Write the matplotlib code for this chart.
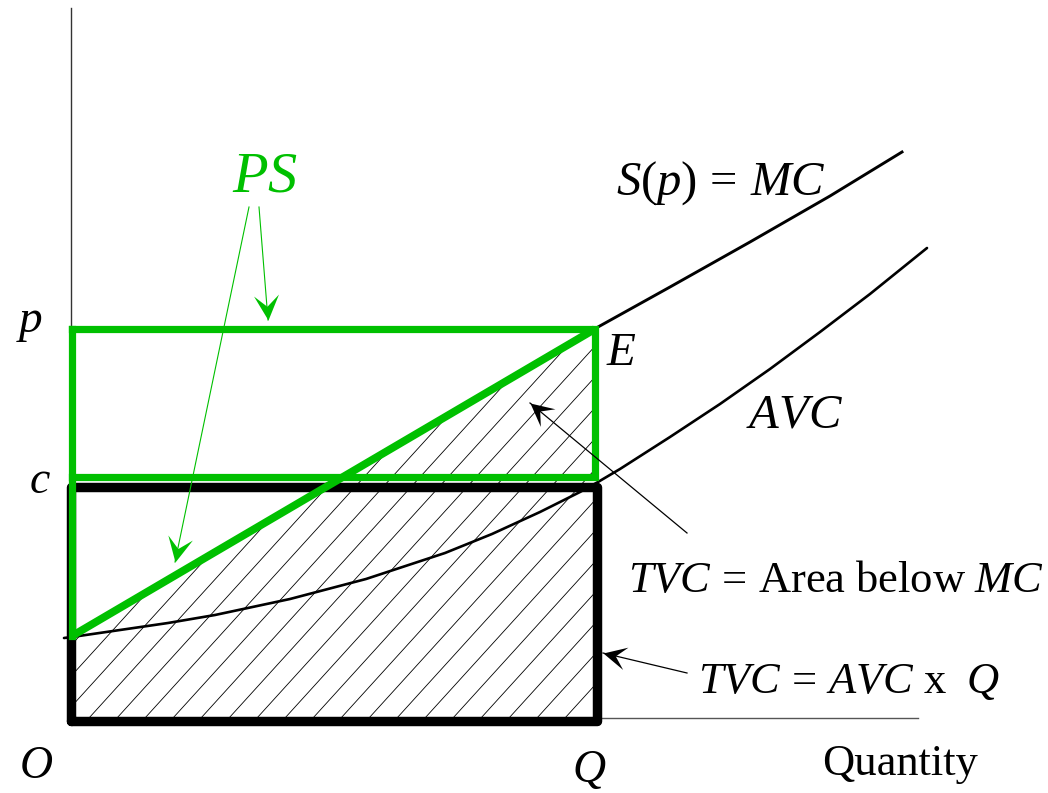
import numpy as np
import matplotlib
matplotlib.use('Agg')
import matplotlib.pyplot as plt
from matplotlib.path import Path
from matplotlib.markers import MarkerStyle
from matplotlib.transforms import Affine2D
from matplotlib.patches import Polygon

plt.rcParams['font.family'] = 'Liberation Serif'
plt.rcParams['mathtext.fontset'] = 'custom'
plt.rcParams['mathtext.rm'] = 'Liberation Serif'
plt.rcParams['mathtext.it'] = 'Liberation Serif:italic'

GREEN = '#00c000'

# Data (1 unit = 1 px measured from the origin O)
Q = 528
ps_x = [2, 525, 525, 2, 2]          # PS rectangle (p .. c)
ps_y = [389, 389, 241, 241, 389]
tvc_x = [1, 527, 527, 1, 1]         # TVC = AVC x Q rectangle
tvc_y = [-3, -3, 231, 231, -3]

mc_low_x = [2, 525]                 # MC below E (green)
mc_low_y = [82, 389]
mc_high_x = [528, 600, 680, 760, 832]    # MC above E
mc_high_y = [391, 431, 476, 522, 566]

avc_x = [-6, 2, 50, 98, 145, 220, 296, 375, 422, 470, 510, 528,
         550, 600, 650, 700, 750, 800, 857]
avc_y = [80, 81, 88, 95, 103, 119, 139, 165, 184, 206, 226, 236,
         249, 281, 314, 349, 386, 424, 470]

fig = plt.figure(figsize=(10.48, 7.93), dpi=100)
ax = fig.add_axes([0, 0, 1, 1])
ax.set_xlim(-70, 978)
ax.set_ylim(-75, 718)
ax.axis('off')

# axes lines
ax.plot([1, 1], [0, 710], color='#333333', lw=1.0)
ax.plot([0, 848], [0, 0], color='#555555', lw=1.0)

# hatched area below MC
area = Polygon([(0, 0), (Q, 0), (Q, mc_high_y[0]), (0, mc_low_y[0])],
               closed=True, fill=False, edgecolor='none')
ax.add_patch(area)
slope = 1.1
for x0 in np.arange(159 - 28 * 20, Q + 28, 28):
    xs = np.array([x0, x0 + 420 / slope])
    ln, = ax.plot(xs, slope * (xs - x0), color='black', lw=0.6)
    ln.set_clip_path(area)

# curves
ax.plot(avc_x, avc_y, color='black', lw=1.9, solid_capstyle='round',
        solid_joinstyle='round')
ax.plot(mc_high_x, mc_high_y, color='black', lw=2.1, solid_joinstyle='round')

# rectangles
ax.plot(tvc_x, tvc_y, color='black', lw=6.8, solid_joinstyle='round',
        solid_capstyle='round')
ax.plot(ps_x, ps_y, color=GREEN, lw=5.2, solid_joinstyle='miter')
ax.plot(mc_low_x, mc_low_y, color=GREEN, lw=5.6, solid_capstyle='butt')
ax.plot([2, 2], [82, 241], color=GREEN, lw=5.2)

# arrows
head = Path([(0, 0), (-1, 0.5), (-0.55, 0), (-1, -0.5), (0, 0)],
            [Path.MOVETO, Path.LINETO, Path.LINETO, Path.LINETO, Path.CLOSEPOLY])


def arrow(x0, y0, x1, y1, color, lw, ms=36):
    ax.plot([x0, x1], [y0, y1], color=color, lw=lw)
    ang = np.degrees(np.arctan2(y1 - y0, x1 - x0))
    m = MarkerStyle(head, transform=Affine2D().rotate_deg(ang))
    ax.plot([x1], [y1], marker=m, ms=ms, color=color, mew=0, ls='none')


arrow(179, 511, 105, 156, GREEN, 0.8)
arrow(189, 511, 198, 398, GREEN, 0.8)
arrow(617, 185, 460, 315, 'black', 0.9, ms=33)
arrow(617, 45, 533, 65, 'black', 0.9, ms=33)

# labels
ax.text(195, 526, '$PS$', color=GREEN, fontsize=42, ha='center', va='baseline')
ax.text(546, 523, r'$S(p)\,=\,MC$', fontsize=35, ha='left', va='baseline')
ax.text(536, 353, '$E$', fontsize=34, ha='left', va='baseline')
ax.text(676, 291, '$AVC$', fontsize=35, ha='left', va='baseline')
ax.text(-54, 386, '$p$', fontsize=34, ha='left', va='baseline')
ax.text(-41, 225, '$c$', fontsize=33, ha='left', va='baseline')
ax.text(-51, -60, '$O$', fontsize=33, ha='left', va='baseline')
ax.text(502, -64, '$Q$', fontsize=33, ha='left', va='baseline')
ax.text(752, -57, 'Quantity', fontsize=32, ha='left', va='baseline')
ax.text(558, 126, r'$TVC\, =\, \mathrm{Area\ below}\ MC$', fontsize=32,
        ha='left', va='baseline')
ax.text(628, 25, r'$TVC\, =\, AVC\ \mathrm{x}\ \ Q$', fontsize=32,
        ha='left', va='baseline')

fig.savefig('out.png', dpi=100)
